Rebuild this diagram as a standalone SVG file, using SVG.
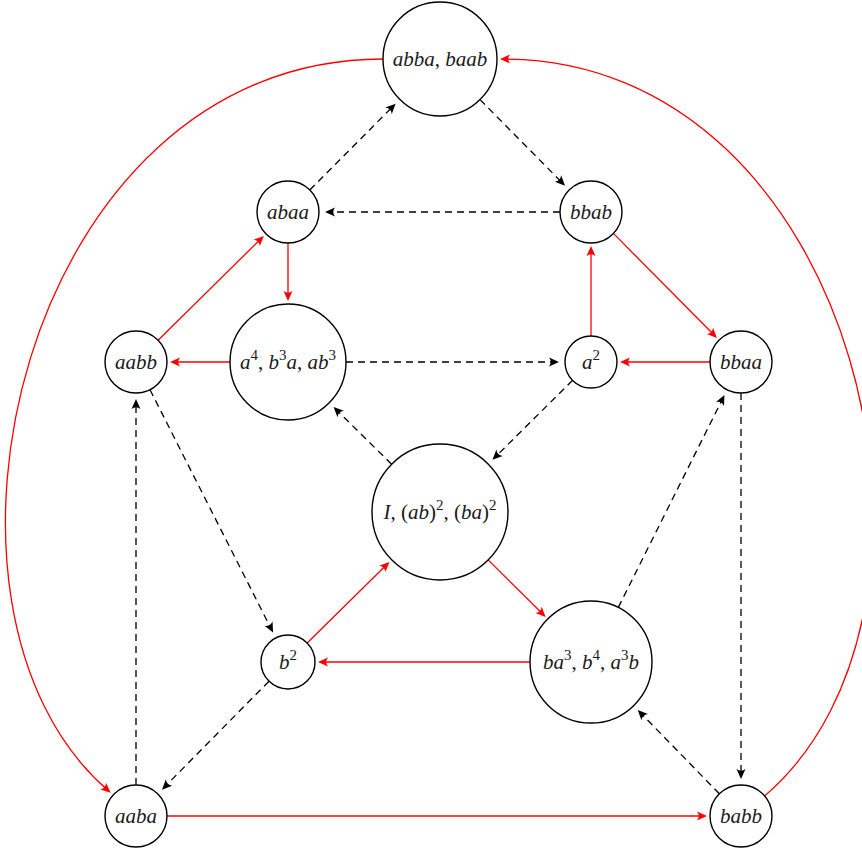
<svg xmlns="http://www.w3.org/2000/svg" width="862" height="849" viewBox="0 0 862 849">
<style>
.node circle{fill:#fff;stroke:#000;stroke-width:1.4}
.node text{font-family:"Liberation Serif",serif;font-style:italic;font-size:21px;text-anchor:middle;fill:#1a1a1a}
.up{font-style:normal}
.sup{font-style:normal;font-size:15px}
.red{stroke:#f00;stroke-width:1.3;fill:none;marker-end:url(#ar)}
.dash{stroke:#000;stroke-width:1.3;fill:none;stroke-dasharray:7,5;marker-end:url(#ab)}
</style>
<defs>
<marker id="ar" viewBox="-12 -6 14 12" markerWidth="14" markerHeight="12" refX="-3" refY="0" orient="auto" markerUnits="userSpaceOnUse"><path d="M0,0 L-10,-4.5 Q-6.5,0 -10,4.5 Z" fill="#f00"/></marker>
<marker id="ab" viewBox="-12 -6 14 12" markerWidth="14" markerHeight="12" refX="-3" refY="0" orient="auto" markerUnits="userSpaceOnUse"><path d="M0,0 L-10,-4.5 Q-6.5,0 -10,4.5 Z" fill="#000"/></marker>
</defs>
<g id="connectors">
<path class="red" d="M383,59 C20,59 -102,610.7 108.4,790.7"/>
<path class="red" d="M764.6,795.9 C982,610.7 860,59 503,59"/>
<path class="red" d="M288,243 L288,298"/>
<path class="red" d="M158.1,340.2 L261.7,238"/>
<path class="red" d="M230,362 L173,362"/>
<path class="red" d="M591,336 L591,249"/>
<path class="red" d="M613.9,233.9 L714.8,335.8"/>
<path class="red" d="M710,362 L623,362"/>
<path class="red" d="M307.2,643 L387.3,564"/>
<path class="red" d="M488.2,559.9 L543.5,614.8"/>
<path class="red" d="M530,662 L321,662"/>
<path class="red" d="M167,816 L704,816"/>
<path class="dash" d="M309.8,190 L393.5,105.8"/>
<path class="dash" d="M480,99.6 L562.9,183.5"/>
<path class="dash" d="M560,212 L328,212"/>
<path class="dash" d="M346,362 L556,362"/>
<path class="dash" d="M572.6,380.3 L494.6,457.7"/>
<path class="dash" d="M391.6,464.2 L335.7,409.1"/>
<path class="dash" d="M150,389.7 L271.7,629.9"/>
<path class="dash" d="M136,785 L136,402"/>
<path class="dash" d="M269,681.2 L164.1,787.5"/>
<path class="dash" d="M618.3,607.4 L723.1,397.8"/>
<path class="dash" d="M741,393 L741,776"/>
<path class="dash" d="M719.4,793.8 L639.8,712.1"/>
</g>
<g id="n-abba" class="node"><circle cx="440" cy="59" r="57"/><text x="440" y="66">abba<tspan class="up">,</tspan> baab</text></g>
<g id="n-abaa" class="node"><circle cx="288" cy="212" r="31"/><text x="288" y="219">abaa</text></g>
<g id="n-bbab" class="node"><circle cx="591" cy="212" r="31"/><text x="591" y="219">bbab</text></g>
<g id="n-aabb" class="node"><circle cx="136" cy="362" r="31"/><text x="136" y="369">aabb</text></g>
<g id="n-a4" class="node"><circle cx="288" cy="362" r="58"/><text x="288" y="369">a<tspan class="sup" dy="-9">4</tspan><tspan class="up" dy="9">,</tspan> b<tspan class="sup" dy="-9">3</tspan><tspan dy="9">a</tspan><tspan class="up">,</tspan> ab<tspan class="sup" dy="-9">3</tspan></text></g>
<g id="n-a2" class="node"><circle cx="591" cy="362" r="26"/><text x="591" y="369">a<tspan class="sup" dy="-9">2</tspan></text></g>
<g id="n-bbaa" class="node"><circle cx="741" cy="362" r="31"/><text x="741" y="369">bbaa</text></g>
<g id="n-I" class="node"><circle cx="440" cy="512" r="68"/><text x="440" y="519">I<tspan class="up">, (</tspan>ab<tspan class="up">)</tspan><tspan class="sup" dy="-9">2</tspan><tspan class="up" dy="9">, (</tspan>ba<tspan class="up">)</tspan><tspan class="sup" dy="-9">2</tspan></text></g>
<g id="n-b2" class="node"><circle cx="288" cy="662" r="27"/><text x="288" y="669">b<tspan class="sup" dy="-9">2</tspan></text></g>
<g id="n-ba3" class="node"><circle cx="591" cy="662" r="61"/><text x="591" y="669">ba<tspan class="sup" dy="-9">3</tspan><tspan class="up" dy="9">,</tspan> b<tspan class="sup" dy="-9">4</tspan><tspan class="up" dy="9">,</tspan> a<tspan class="sup" dy="-9">3</tspan><tspan dy="9">b</tspan></text></g>
<g id="n-aaba" class="node"><circle cx="136" cy="816" r="31"/><text x="136" y="823">aaba</text></g>
<g id="n-babb" class="node"><circle cx="741" cy="816" r="31"/><text x="741" y="823">babb</text></g>
</svg>
